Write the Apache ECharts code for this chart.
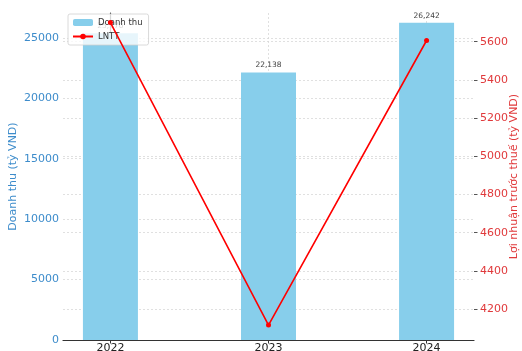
<!DOCTYPE html>
<html>
<head>
<meta charset="utf-8">
<script src="https://cdn.jsdelivr.net/npm/echarts@6/dist/echarts.min.js"></script>
<style>
  html, body { margin: 0; padding: 0; background: #fff; }
  #chart { width: 522px; height: 351px; }
</style>
</head>
<body>
<div id="chart"></div>
<script>
// du lieu
var years = ['2022', '2023', '2024'];
var revenue = [25370, 22138, 26242];   // Doanh thu
var lntt = [5700, 4116, 5606];         // LNTT
var leftTicks = [0, 5000, 10000, 15000, 20000, 25000];
var rightTicks = [4200, 4400, 4600, 4800, 5000, 5200, 5400, 5600];

var blue = '#3d8ccb';
var red = '#e0393b';
var grid = { type: [2, 2], color: '#d9d9d9', width: 0.8 };

var chart = echarts.init(document.getElementById('chart'));

var option = {
  animation: false,
  textStyle: { fontFamily: 'DejaVu Sans' },
  grid: { left: 63, right: 48, top: 13, bottom: 11, outerBoundsMode: 'none', containLabel: false },
  legend: {
    left: 68, top: 14,
    orient: 'vertical',
    itemWidth: 20, itemHeight: 7, itemGap: 5,
    padding: [4, 6, 4, 4],
    backgroundColor: 'rgba(255,255,255,0.8)',
    borderColor: '#d0d0d0', borderWidth: 0.8, borderRadius: 2,
    textStyle: { fontSize: 8.5, color: '#333' },
    data: ['Doanh thu', 'LNTT']
  },
  xAxis: {
    type: 'value', min: -0.3, max: 2.3,
    axisLine: { show: true, lineStyle: { color: '#333', width: 1.2 } },
    axisTick: { show: true, length: 3.5, customValues: [0, 1, 2], lineStyle: { color: '#333' } },
    axisLabel: {
      customValues: [0, 1, 2], margin: 3, fontSize: 11, color: '#222',
      formatter: function (v) { return years[Math.round(v)]; }
    },
    splitLine: { show: true, lineStyle: grid }
  },
  yAxis: [{
    type: 'value', min: 0, max: 27050,
    name: 'Doanh thu (tỷ VND)', nameLocation: 'middle', nameGap: 44,
    nameMoveOverlap: false,
    nameTextStyle: { color: blue, fontSize: 11 },
    axisLine: { show: true, lineStyle: { color: '#333', width: 1.2 } },
    axisTick: { show: true, length: 3.5, customValues: leftTicks, lineStyle: { color: '#333' } },
    axisLabel: {
      customValues: leftTicks, color: blue, fontSize: 11, margin: 4,
      formatter: function (v) { return String(v); }
    },
    splitLine: { show: true, lineStyle: grid }
  }, {
    type: 'value', min: 4038, max: 5750, position: 'right',
    name: 'Lợi nhuận trước thuế (tỷ VND)', nameLocation: 'middle', nameGap: 35,
    nameRotate: 90, nameMoveOverlap: false,
    nameTextStyle: { color: red, fontSize: 11 },
    axisLine: { show: false },
    axisTick: { show: true, length: 3.5, customValues: rightTicks, lineStyle: { color: '#555' } },
    axisLabel: {
      customValues: rightTicks, color: red, fontSize: 11, margin: 6,
      formatter: function (v) { return String(v); }
    },
    splitLine: { show: true, lineStyle: grid }
  }],
  series: [{
    name: 'Doanh thu',
    type: 'bar',
    barWidth: 55,
    itemStyle: { color: '#87ceeb' },
    label: {
      show: true, position: 'top', distance: 3, fontSize: 7.5, color: '#444',
      formatter: function (p) { return p.value[1].toLocaleString('en-US'); }
    },
    data: revenue.map(function (v, i) { return [i, v]; })
  }, {
    name: 'LNTT',
    type: 'line',
    yAxisIndex: 1,
    z: 10,
    symbol: 'circle', symbolSize: 5,
    lineStyle: { color: '#ff0000', width: 1.6 },
    itemStyle: { color: '#ff0000' },
    data: lntt.map(function (v, i) { return [i, v]; })
  }]
};

chart.setOption(option);
</script>
</body>
</html>
